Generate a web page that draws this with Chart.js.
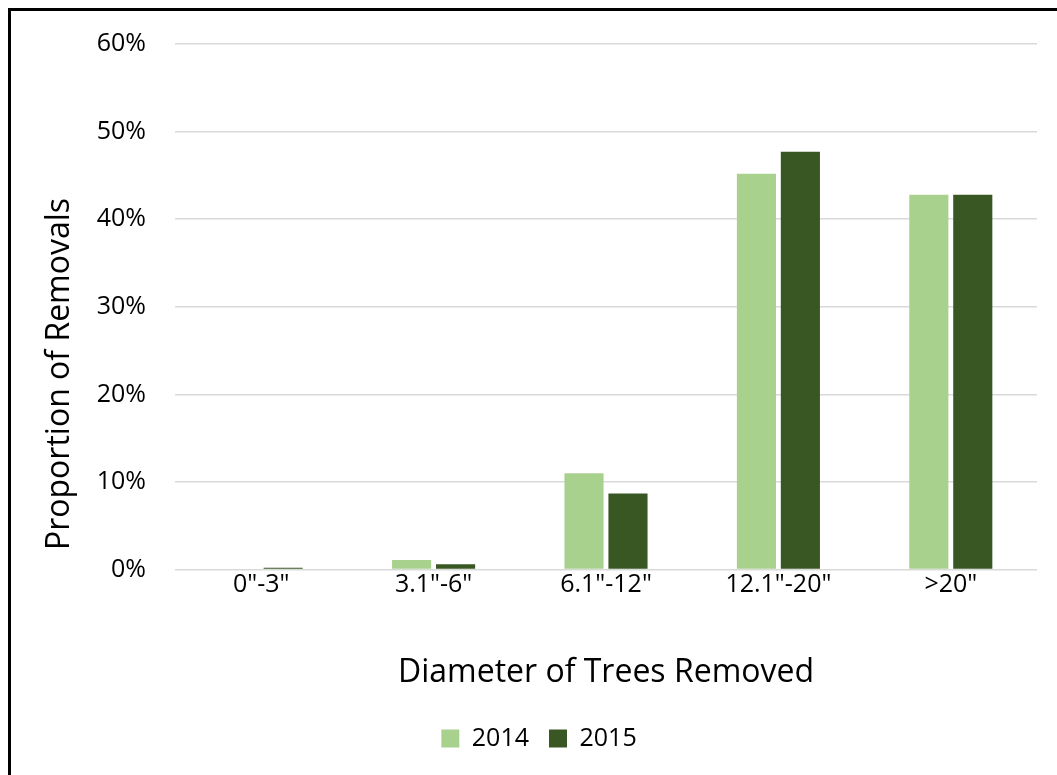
<!DOCTYPE html>
<html>
<head>
<meta charset="utf-8">
<script src="https://cdn.jsdelivr.net/npm/chart.js@4"></script>
<style>
  html, body { margin: 0; padding: 0; background: #fff; overflow: hidden; }
  #frame { position: absolute; left: 8px; top: 8px; width: 1100px; height: 820px; border: 3px solid #000; }
  #wrap { position: absolute; left: 0; top: 0; width: 1057px; height: 775px; }
</style>
</head>
<body>
<div id="frame"></div>
<div id="wrap"><canvas id="chart"></canvas></div>
<script>
const categories = ['0"-3"', '3.1"-6"', '6.1"-12"', '12.1"-20"', '>20"'];
const values2014 = [0.0, 1.1, 11.0, 45.2, 42.8];
const values2015 = [0.2, 0.6, 8.7, 47.7, 42.8];
const yTicks = [0, 10, 20, 30, 40, 50, 60];

const FONT = '"Open Sans", "DejaVu Sans", sans-serif';

// y title sits lower than the plot centre in the original, so draw it ourselves
const yTitle = {
    id: 'yTitle',
    afterDraw(chart) {
        const ctx = chart.ctx;
        ctx.save();
        ctx.translate(60, 374);
        ctx.rotate(-Math.PI / 2);
        ctx.font = '32px ' + FONT;
        ctx.fillStyle = '#000';
        ctx.textAlign = 'center';
        ctx.textBaseline = 'middle';
        ctx.fillText('Proportion of Removals', 0, 0);
        ctx.restore();
    }
};

new Chart(document.getElementById('chart'), {
    type: 'bar',
    data: {
        labels: categories,
        datasets: [
            { label: '2014', data: values2014, backgroundColor: '#a9d18e', categoryPercentage: 0.51, barPercentage: 0.89 },
            { label: '2015', data: values2015, backgroundColor: '#385723', categoryPercentage: 0.51, barPercentage: 0.89 }
        ]
    },
    plugins: [yTitle],
    options: {
        responsive: true,
        maintainAspectRatio: false,
        animation: false,
        layout: { autoPadding: false, padding: { left: 41, right: 20, top: 41, bottom: 14 } },
        plugins: {
            tooltip: { enabled: false },
            legend: {
                position: 'bottom',
                labels: {
                    boxWidth: 18, boxHeight: 18, padding: 20,
                    color: '#000',
                    font: { family: FONT, size: 25 }
                }
            }
        },
        scales: {
            x: {
                grid: { display: false, drawTicks: false },
                border: { display: false },
                ticks: { color: '#000', font: { family: FONT, size: 25 }, padding: 0 },
                title: {
                    display: true, text: 'Diameter of Trees Removed', color: '#000',
                    font: { family: FONT, size: 32 }, padding: { top: 54, bottom: 14 }
                }
            },
            y: {
                min: 0, max: 60,
                afterBuildTicks: axis => { axis.ticks = yTicks.map(v => ({ value: v })); },
                afterFit: axis => { axis.width = 134; },
                grid: { color: '#d9d9d9', lineWidth: 1.5, drawTicks: false },
                border: { display: false },
                ticks: {
                    color: '#000', font: { family: FONT, size: 25 }, padding: 29,
                    callback: v => v + '%'
                }
            }
        }
    }
});
</script>
</body>
</html>
